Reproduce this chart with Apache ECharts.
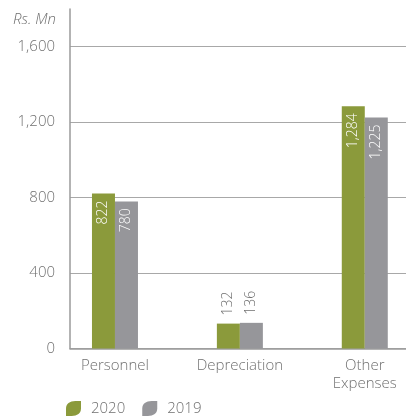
<!DOCTYPE html>
<html>
<head>
<meta charset="utf-8">
<script src="https://cdn.jsdelivr.net/npm/echarts@6/dist/echarts.min.js"></script>
<style>
  html, body { margin: 0; padding: 0; background: #fff; }
  #chart { width: 406px; height: 416px; }
</style>
</head>
<body>
<div id="chart"></div>
<script>
// Expense categories and yearly amounts (Rs. Mn)
const categories = ['Personnel', 'Depreciation', 'Other\nExpenses'];
const values2020 = [822, 132, 1284];
const values2019 = [780, 136, 1225];
const yTicks = [0, 400, 800, 1200, 1600];

const GREEN = '#8b9a3b';
const GREY = '#96969a';
const TEXT = '#707070';
const FONT = '"Open Sans", "Noto Sans", sans-serif';
const WEIGHT = 300;

const fmt = v => Number(v).toLocaleString('en-US');

// short bars carry their value above the bar, tall ones inside it
function buildData(values) {
  return values.map((v, i) => {
    const inside = v > 300;
    return {
      value: [i, v],
      label: inside
        ? { position: 'insideTop', align: 'right', color: '#ffffff', distance: 7 }
        : { position: 'top', align: 'left', color: TEXT, distance: 8 }
    };
  });
}

const barLabel = {
  show: true,
  rotate: 90,
  verticalAlign: 'middle',
  fontFamily: FONT,
  fontWeight: WEIGHT,
  fontSize: 14,
  formatter: p => fmt(p.value[1])
};

const leaf = 'path://M0,16 L0,8 C0,3 4,0 10,0 L16,0 L16,8 C16,13 12,16 6,16 Z';

const chart = echarts.init(document.getElementById('chart'), null, { renderer: 'canvas' });
chart.setOption({
  animation: false,
  backgroundColor: '#ffffff',
  textStyle: { fontFamily: FONT },
  title: {
    text: 'Rs. Mn',
    left: 8,
    top: 7,
    textStyle: { fontFamily: FONT, fontSize: 15, fontStyle: 'italic', fontWeight: WEIGHT, color: TEXT }
  },
  grid: { left: 70, right: 0, top: 9, bottom: 67.5, containLabel: false },
  xAxis: {
    type: 'value',
    min: -0.36,
    max: 2.33,
    axisLine: { show: true, onZero: false, lineStyle: { color: '#9a9a9a', width: 1.5 } },
    axisTick: { show: false },
    splitLine: { show: false },
    axisLabel: {
      customValues: categories.map((c, i) => i),
      formatter: v => categories[Math.round(v)] || '',
      fontFamily: FONT,
      fontWeight: WEIGHT,
      fontSize: 15,
      lineHeight: 18,
      color: TEXT,
      margin: 8
    }
  },
  yAxis: {
    type: 'value',
    min: 0,
    max: 1800,
    interval: 400,
    axisLine: { show: true, onZero: false, lineStyle: { color: '#9a9a9a', width: 1.5 } },
    axisTick: { show: false },
    splitLine: { show: true, showMaxLine: false, lineStyle: { color: '#a8a8a8', width: 1 } },
    axisLabel: {
      customValues: yTicks,
      formatter: v => fmt(v),
      fontFamily: FONT,
      fontWeight: WEIGHT,
      fontSize: 15,
      color: TEXT,
      margin: 15
    }
  },
  legend: {
    left: 61,
    top: 396,
    itemWidth: 15,
    itemHeight: 16,
    itemGap: 17,
    icon: leaf,
    textStyle: { fontFamily: FONT, fontWeight: WEIGHT, fontSize: 15, color: TEXT, padding: [0, 0, 0, 5] },
    data: ['2020', '2019']
  },
  series: [
    {
      name: '2020',
      type: 'bar',
      barWidth: 23,
      barGap: '0%',
      itemStyle: { color: GREEN },
      label: barLabel,
      data: buildData(values2020)
    },
    {
      name: '2019',
      type: 'bar',
      barWidth: 23,
      barGap: '0%',
      itemStyle: { color: GREY },
      label: barLabel,
      data: buildData(values2019)
    }
  ]
});
</script>
</body>
</html>
